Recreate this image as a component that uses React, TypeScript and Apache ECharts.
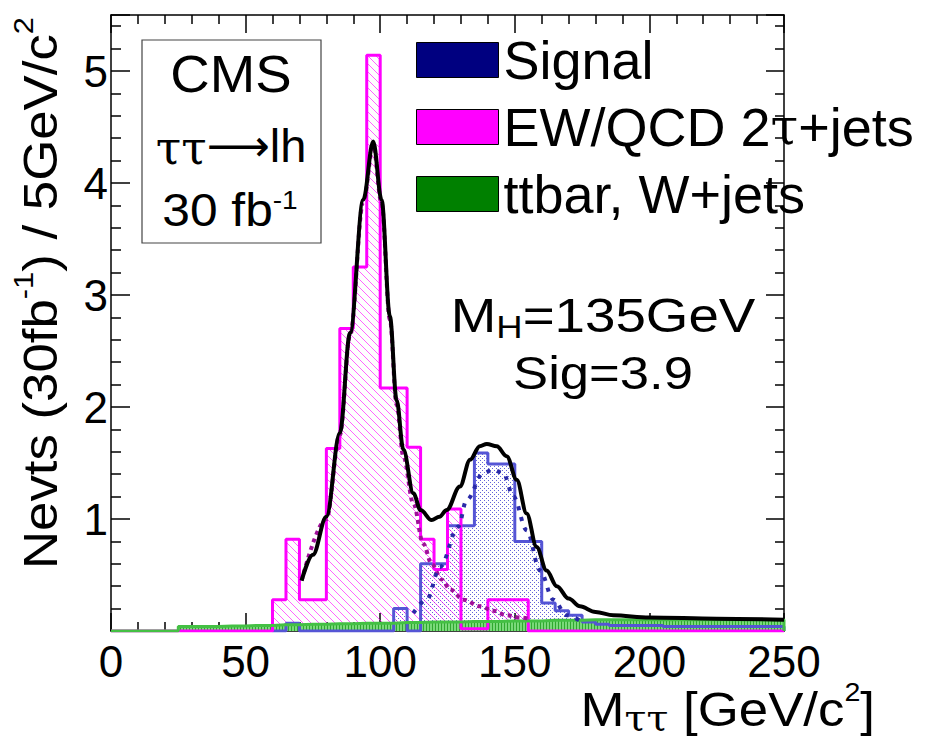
import React, { useEffect, useRef } from 'react';
import * as echarts from 'echarts';

// ---------- data ----------
const BIN_WIDTH = 5; // GeV per bin

// Signal histogram (bins of 5 GeV, starting at 60 GeV)
const signalStart = 60;
const signalValues = [
  0, 0.07, 0, 0, 0, 0, 0, 0, 0, 0.2, 0, 0.6, 0.6, 0.94, 0.94, 1.59, 1.49, 1.49, 0.8, 0.8,
  0.25, 0.18, 0.14, 0.08, 0.06, 0.05, 0.05, 0.05, 0.05, 0.04, 0.04, 0.04, 0.04, 0.04, 0.04, 0.04,
  0.04, 0.04,
];

// EW/QCD 2tau+jets histogram (bins of 5 GeV, starting at 0 GeV)
const ewStart = 0;
const ewValues = [
  0, 0, 0, 0, 0, 0, 0, 0, 0, 0, 0, 0,
  0.28, 0.82, 0.28, 0.28, 1.63, 2.7, 3.25, 5.14, 2.17, 2.17, 1.64, 0.82, 0.55, 1.09, 0.02, 0.02,
  0.28, 0.28, 0.28,
  0, 0, 0, 0, 0, 0, 0, 0, 0, 0, 0, 0, 0, 0, 0, 0, 0, 0, 0,
];

// ttbar, W+jets histogram (bins of 5 GeV, starting at 0 GeV)
const ttStart = 0;
const ttValues = [
  0, 0, 0, 0, 0,
  0.04, 0.04, 0.04, 0.045, 0.045, 0.05, 0.05, 0.055, 0.055, 0.06, 0.06, 0.065, 0.065, 0.07, 0.07,
  0.07, 0.075, 0.075, 0.08, 0.08, 0.08, 0.085, 0.085, 0.085, 0.09, 0.09, 0.09, 0.095, 0.095, 0.095,
  0.1, 0.1, 0.1, 0.1, 0.1, 0.1, 0.1, 0.1, 0.1, 0.1, 0.1, 0.1, 0.1, 0.1, 0.1,
];

// Total fit (black curve)
const totalX = [70.8, 75, 80, 85, 88.8, 93.7, 97.4, 100.5, 103.6, 106.1, 108.6, 112.3, 115, 119.1, 122, 124.7, 129.6, 133.4, 137, 139.6, 143.3, 147, 150.7, 154.4, 158.1, 161.8, 165.6, 170, 174.2, 180, 186.6, 200, 225, 250];
const totalY = [0.45, 0.68, 1.02, 1.77, 2.66, 3.85, 4.37, 3.85, 2.81, 2.06, 1.62, 1.23, 1.08, 0.99, 1.02, 1.08, 1.29, 1.53, 1.65, 1.67, 1.65, 1.56, 1.35, 1.05, 0.75, 0.54, 0.4, 0.29, 0.22, 0.17, 0.14, 0.12, 0.11, 0.1];

// Background component of the fit (magenta dotted)
const bgFitX = [70.8, 80, 85, 88.8, 93.7, 97.4, 100.5, 103.6, 106.1, 108.6, 112.3, 116, 119.1, 122.8, 126, 130.9, 137.1, 142, 147, 152, 155];
const bgFitY = [0.45, 1.0, 1.75, 2.64, 3.83, 4.33, 3.82, 2.78, 2.02, 1.56, 1.14, 0.78, 0.6, 0.46, 0.37, 0.28, 0.22, 0.18, 0.14, 0.12, 0.11];

// Signal component of the fit (blue dotted)
const sigFitX = [112.3, 117.3, 122.2, 129, 132.1, 138.3, 142, 145.7, 149.5, 154.4, 159.4, 164.3, 169.3, 175];
const sigFitY = [0.16, 0.28, 0.57, 0.93, 1.17, 1.41, 1.44, 1.41, 1.2, 0.9, 0.54, 0.28, 0.14, 0.08];

const xMin = 0;
const xMax = 250;
const xInterval = 50;
const yMin = 0;
const yMax = 5.5;
const yInterval = 1;

const legendNames = ['Signal', 'EW/QCD 2\u03c4+jets', 'ttbar, W+jets'];

const FONT = '"Liberation Sans", Arial, Helvetica, sans-serif';
const SERIF = '"DejaVu Serif", "Liberation Serif", serif';
const ARROW = '"DejaVu Sans", sans-serif';

function histPoints(start: number, values: number[]) {
  const pts: number[][] = [[start, 0]];
  values.forEach((v, i) => pts.push([start + i * BIN_WIDTH, v]));
  const end = start + values.length * BIN_WIDTH;
  pts.push([end, values[values.length - 1]]);
  pts.push([end, 0]);
  return pts;
}

function curvePoints(xs: number[], ys: number[]) {
  return xs.map((x, i) => [x, ys[i]]);
}

function makePattern(w: number, h: number, draw: (ctx: CanvasRenderingContext2D) => void) {
  const c = document.createElement('canvas');
  c.width = w;
  c.height = h;
  const ctx = c.getContext('2d')!;
  draw(ctx);
  return { image: c.toDataURL(), repeat: 'repeat', imageWidth: w, imageHeight: h } as any;
}

export default function App() {
  const ref = useRef<HTMLDivElement>(null);

  useEffect(() => {
    if (!ref.current) return;
    const chart = echarts.init(ref.current, null, { renderer: 'svg' });

    const hatch = makePattern(8, 8, (ctx) => {
      ctx.strokeStyle = 'rgba(255,0,255,0.6)';
      ctx.lineWidth = 1;
      for (const off of [-8, 0, 8]) {
        ctx.beginPath();
        ctx.moveTo(off, 0);
        ctx.lineTo(off + 8, 8);
        ctx.stroke();
      }
    });
    const dots = makePattern(4, 4, (ctx) => {
      ctx.fillStyle = 'rgba(70,70,210,0.85)';
      ctx.fillRect(0, 0, 1, 1);
      ctx.fillRect(2, 2, 1, 1);
    });
    const greenHatch = makePattern(3, 3, (ctx) => {
      ctx.fillStyle = '#7ad97a';
      ctx.fillRect(0, 0, 3, 3);
      ctx.fillStyle = '#2fa82f';
      ctx.fillRect(0, 0, 1, 3);
    });

    const axisBase = {
      type: 'value',
      axisLine: { show: true, onZero: false, lineStyle: { color: '#000', width: 1.5 } },
      axisTick: { show: true, inside: true, length: 18, lineStyle: { color: '#000', width: 1.5 } },
      minorTick: { show: true, splitNumber: 5, length: 9, lineStyle: { color: '#000', width: 1.5 } },
      splitLine: { show: false },
      minorSplitLine: { show: false },
    };

    const stepSeries = (name: string, data: number[][], color: string, area: any, width: number) => ({
      type: 'line',
      name,
      data,
      step: 'end',
      symbol: 'none',
      silent: true,
      color,
      lineStyle: { color, width },
      itemStyle: { color },
      areaStyle: { color: area, opacity: 1 },
      emphasis: { disabled: true },
    });

    const curveSeries = (name: string, data: number[][], color: string, width: number, type: any) => ({
      type: 'line',
      name,
      data,
      smooth: 0.35,
      smoothMonotone: 'x',
      symbol: 'none',
      silent: true,
      color,
      lineStyle: { color, width, type, cap: 'butt' },
      itemStyle: { color },
      emphasis: { disabled: true },
    });

    const option: any = {
      animation: false,
      backgroundColor: '#fff',
      textStyle: { fontFamily: FONT },
      grid: { left: 111, top: 15, right: 144, bottom: 110, containLabel: false },
      xAxis: [
        {
          ...axisBase,
          position: 'bottom',
          min: xMin,
          max: xMax,
          interval: xInterval,
          axisLabel: { show: true, fontSize: 44, color: '#000', margin: 8, fontFamily: FONT },
        },
        {
          ...axisBase,
          position: 'top',
          min: xMin,
          max: xMax,
          interval: xInterval,
          axisLabel: { show: false },
        },
      ],
      yAxis: [
        {
          ...axisBase,
          position: 'left',
          min: yMin,
          max: yMax,
          interval: yInterval,
          axisTick: { show: true, inside: true, length: 19, lineStyle: { color: '#000', width: 1.5 } },
          minorTick: { show: true, splitNumber: 5, length: 10, lineStyle: { color: '#000', width: 1.5 } },
          axisLabel: {
            show: true,
            fontSize: 44,
            color: '#000',
            margin: 3,
            fontFamily: FONT,
            showMinLabel: false,
            showMaxLabel: false,
          },
        },
        {
          ...axisBase,
          position: 'right',
          min: yMin,
          max: yMax,
          interval: yInterval,
          axisLabel: { show: false },
        },
      ],
      legend: {
        orient: 'vertical',
        left: 416,
        top: 33,
        padding: 0,
        itemWidth: 82,
        itemHeight: 35,
        itemGap: 13,
        selectedMode: false,
        formatter: (name: string) => name.replace('\u03c4', '{t|\u03c4}'),
        textStyle: {
          fontSize: 54,
          lineHeight: 52,
          color: '#000',
          fontFamily: FONT,
          rich: { t: { fontFamily: SERIF, fontSize: 50, lineHeight: 52, color: '#000' } },
        },
        data: [
          { name: legendNames[0], icon: 'rect', itemStyle: { color: '#000080', borderColor: '#000', borderWidth: 1 } },
          { name: legendNames[1], icon: 'rect', itemStyle: { color: '#ff00ff', borderColor: '#000', borderWidth: 1 } },
          { name: legendNames[2], icon: 'rect', itemStyle: { color: '#008000', borderColor: '#000', borderWidth: 1 } },
        ],
      },
      series: [
        stepSeries(legendNames[0], histPoints(signalStart, signalValues), '#5555d5', dots, 3),
        stepSeries(legendNames[1], histPoints(ewStart, ewValues), '#ff00ff', hatch, 3),
        stepSeries(legendNames[2], histPoints(ttStart, ttValues), '#44c044', greenHatch, 3),
        curveSeries('Background fit', curvePoints(bgFitX, bgFitY), '#a0109a', 4, [4, 4]),
        curveSeries('Signal fit', curvePoints(sigFitX, sigFitY), '#2a2aa8', 4, [4, 7]),
        curveSeries('Total fit', curvePoints(totalX, totalY), '#000000', 4, 'solid'),
      ],
      graphic: [
        {
          type: 'rect',
          z: 100,
          shape: { x: 142, y: 40, width: 179, height: 203 },
          style: { fill: '#fff', stroke: '#444', lineWidth: 1.2 },
        },
        {
          type: 'text',
          z: 101,
          x: 231,
          y: 74,
          scaleX: 1.05,
          style: { text: 'CMS', fontSize: 52, fontFamily: FONT, fill: '#000', align: 'center', verticalAlign: 'middle' },
        },
        {
          type: 'text',
          z: 101,
          x: 231,
          y: 145,
          style: {
            text: '{g|\u03c4\u03c4}{a|\u27f6}{m|lh}',
            fill: '#000',
            align: 'center',
            verticalAlign: 'middle',
            rich: {
              g: { fontFamily: SERIF, fontSize: 46, lineHeight: 50, fill: '#000', padding: [6, 0, 0, 0] },
              a: { fontFamily: ARROW, fontSize: 44, lineHeight: 50, fill: '#000' },
              m: { fontFamily: FONT, fontSize: 47, lineHeight: 50, fill: '#000' },
            },
          },
        },
        {
          type: 'text',
          z: 101,
          x: 230,
          y: 210,
          scaleX: 1.08,
          style: {
            text: '{m|30 fb}{s|-1}',
            fill: '#000',
            align: 'center',
            verticalAlign: 'middle',
            rich: {
              m: { fontFamily: FONT, fontSize: 46, lineHeight: 50, fill: '#000' },
              s: { fontFamily: FONT, fontSize: 26, lineHeight: 50, fill: '#000', padding: [0, 0, 20, 0] },
            },
          },
        },
        {
          type: 'text',
          z: 101,
          x: 603,
          y: 315,
          scaleX: 1.14,
          style: {
            text: '{m|M}{s|H}{m|=135GeV}',
            fill: '#000',
            align: 'center',
            verticalAlign: 'middle',
            rich: {
              m: { fontFamily: FONT, fontSize: 48, lineHeight: 50, fill: '#000' },
              s: { fontFamily: FONT, fontSize: 32, lineHeight: 50, fill: '#000', padding: [23, 0, 0, 0] },
            },
          },
        },
        {
          type: 'text',
          z: 101,
          x: 603,
          y: 373,
          scaleX: 1.12,
          style: { text: 'Sig=3.9', fontSize: 47, fontFamily: FONT, fill: '#000', align: 'center', verticalAlign: 'middle' },
        },
        {
          type: 'text',
          z: 101,
          x: 875,
          y: 709,
          scaleX: 1.1,
          style: {
            text: '{m|M}{t|\u03c4\u03c4}{m| [GeV/c}{s|2}{m|]}',
            fill: '#000',
            align: 'right',
            verticalAlign: 'middle',
            rich: {
              m: { fontFamily: FONT, fontSize: 48, lineHeight: 50, fill: '#000' },
              t: { fontFamily: SERIF, fontSize: 36, lineHeight: 50, fill: '#000', padding: [20, 0, 0, 0] },
              s: { fontFamily: FONT, fontSize: 26, lineHeight: 50, fill: '#000', padding: [0, 0, 35, 0] },
            },
          },
        },
        {
          type: 'text',
          z: 101,
          x: 40,
          y: 17,
          rotation: Math.PI / 2,
          scaleX: 1.1,
          style: {
            text: '{m|Nevts (30fb}{s|-1}{m|) / 5GeV/c}{s|2}',
            fill: '#000',
            align: 'right',
            verticalAlign: 'middle',
            rich: {
              m: { fontFamily: FONT, fontSize: 48, lineHeight: 52, fill: '#000' },
              s: { fontFamily: FONT, fontSize: 28, lineHeight: 52, fill: '#000', padding: [0, 0, 34, 0] },
            },
          },
        },
      ],
    };

    chart.setOption(option);
    return () => chart.dispose();
  }, []);

  return (
    <div
      ref={ref}
      style={{ position: 'fixed', left: 0, top: 0, width: 928, height: 741, background: '#fff' }}
    />
  );
}
